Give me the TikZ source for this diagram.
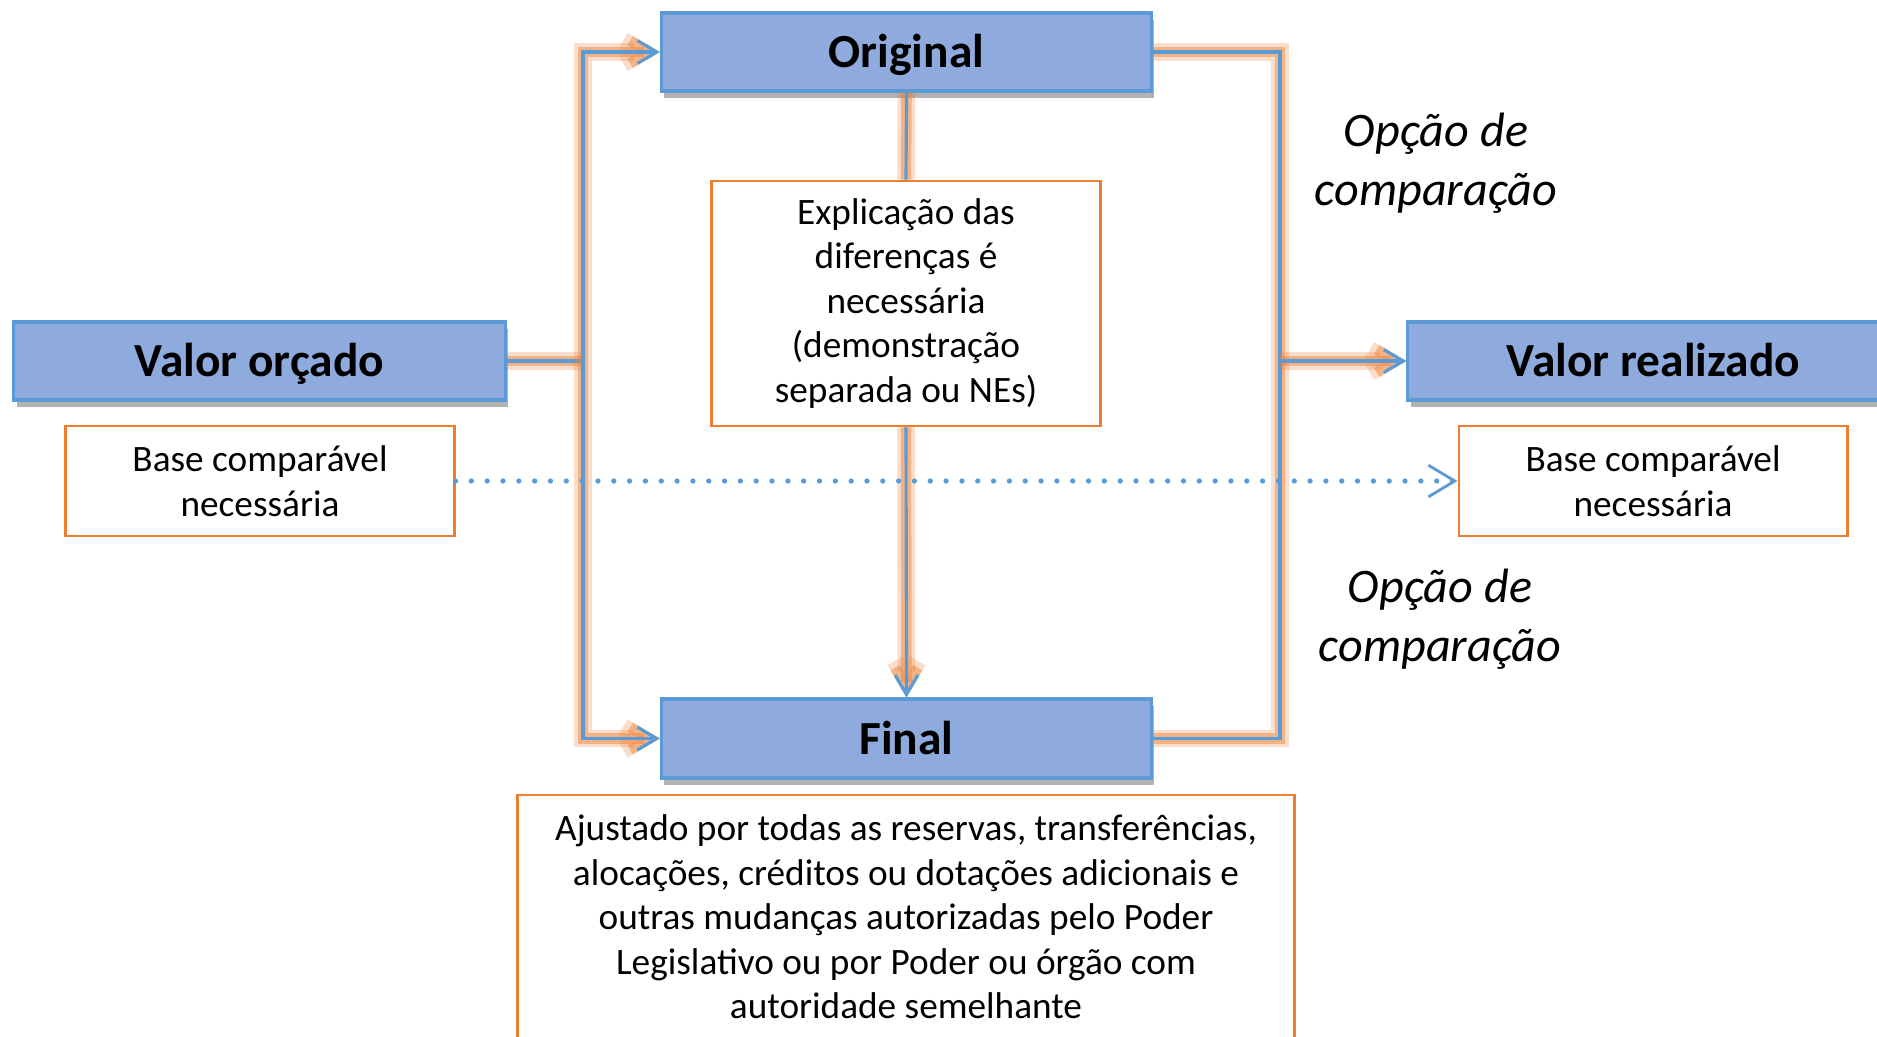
\documentclass[tikz,border=0pt]{standalone}
\usepackage{fontspec}
\setmainfont{Carlito}
\usetikzlibrary{arrows.meta,shadows,positioning,backgrounds}

\definecolor{boxblue}{RGB}{143,170,220}
\definecolor{edgeblue}{RGB}{91,155,213}
\definecolor{boxorange}{RGB}{237,125,49}

\tikzset{
  bluebox/.style={draw=edgeblue, line width=0.9pt, fill=boxblue,
    minimum width=4.9cm, minimum height=0.78cm,
    text height=10pt, text depth=1pt,
    font=\fontsize{13.5}{16}\selectfont\bfseries,
    drop shadow={shadow xshift=0.8pt, shadow yshift=-2pt, opacity=0.3, fill=black}},
  notebox/.style={draw=boxorange, line width=0.8pt, fill=white, align=center,
    minimum width=3.88cm, font=\fontsize{10.6}{12.65}\selectfont},
  optlabel/.style={align=center, font=\fontsize{13.7}{16.7}\selectfont\itshape},
  link/.style={draw=edgeblue, line width=0.9pt,
    preaction={draw=boxorange, line width=5pt, opacity=0.25},
    preaction={draw=boxorange, line width=3pt, opacity=0.45}},
  linkarrow/.style={-{Straight Barb[length=5.5pt,width=6.5pt]}},
  compare/.style={draw=edgeblue, line width=1.5pt, dash pattern=on 0pt off 4.5pt,
    line cap=round, -{Straight Barb[length=7.5pt,width=9pt,line width=0.8pt]}}
}

\begin{document}
\begin{tikzpicture}[x=0.01cm, y=-0.01cm]
  \useasboundingbox (0,0) rectangle (1877,1036);

  % budget stages
  \node[bluebox] (orig) at (906.5,52) {Original};
  \node[bluebox, minimum height=0.79cm] (final) at (906.5,738.5) {Final};
  \node[bluebox, minimum width=4.91cm] (vo) at (259.5,361) {Valor orçado};
  \node[bluebox, minimum width=4.91cm] (vr) at (1653.5,361) {Valor realizado};

  % notes
  \node[notebox, minimum height=1.1cm] (baseL) at (260,481) {Base comparável\\necessária};
  \node[notebox, minimum height=1.1cm] (baseR) at (1653,481) {Base comparável\\necessária};
  \node[notebox, minimum height=2.45cm] (expl) at (906,303.5)
    {Explicação das\\diferenças é\\necessária\\(demonstração\\separada ou NEs)};
  \node[notebox, minimum width=7.76cm, minimum height=2.44cm] (adjust) at (906,917)
    {Ajustado por todas as reservas, transferências,\\
     alocações, créditos ou dotações adicionais e\\
     outras mudanças autorizadas pelo Poder\\
     Legislativo ou por Poder ou órgão com\\
     autoridade semelhante};

  \node[optlabel] (optA) at (1436,163) {Opção de\\comparação};
  \node[optlabel] (optB) at (1440,619) {Opção de\\comparação};

  \coordinate (lj) at (583,361);
  \coordinate (rj) at (1280,361);

  % connectors
  \draw[link] (vo.east) -- (lj);
  \draw[link, linkarrow] (lj) |- (orig.west);
  \draw[link, linkarrow] (lj) |- (final.west);
  \draw[link] (orig.east) -| (rj);
  \draw[link] (final.east) -| (rj);
  \draw[link, linkarrow] (rj) -- (vr.west);
  \draw[link] (orig.south) -- (expl.north);
  \draw[link, linkarrow] (expl.south) -- (final.north);

  \draw[compare] (baseL.east) -- (baseR.west);
\end{tikzpicture}
\end{document}
